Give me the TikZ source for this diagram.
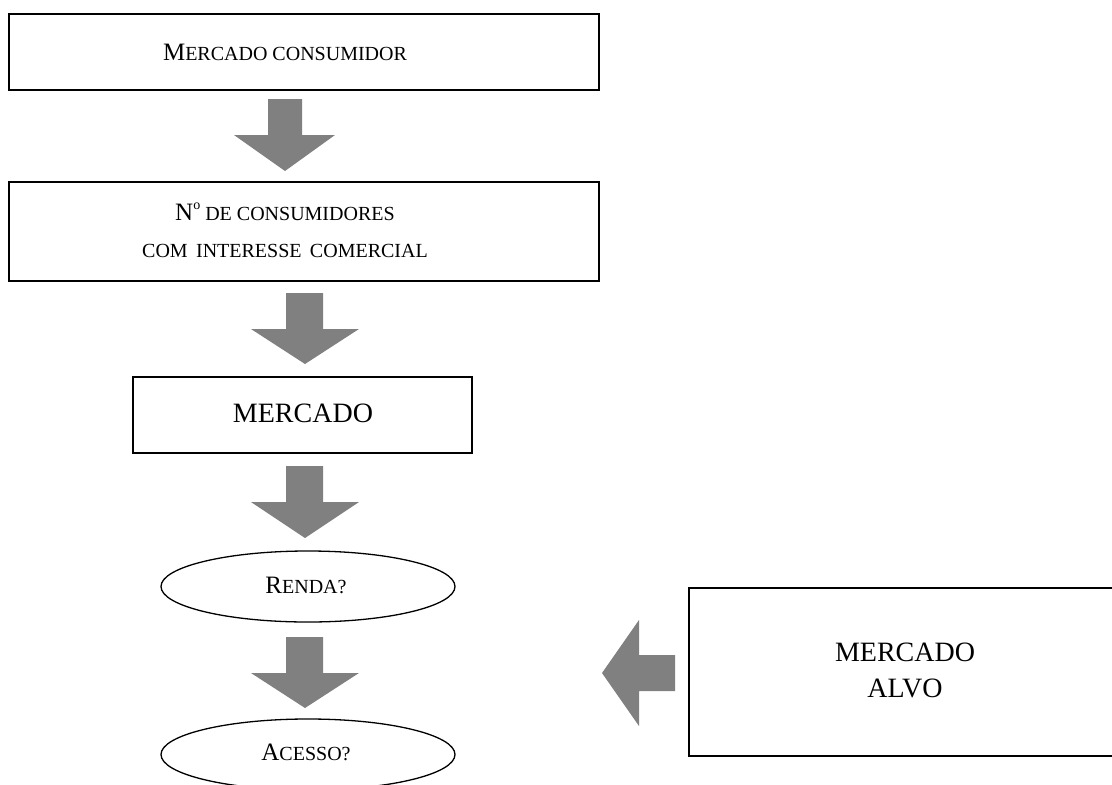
\documentclass[tikz,border=0pt]{standalone}
\usepackage{fontspec}
\setmainfont{Liberation Serif}
\usetikzlibrary{shapes.geometric}
\newcommand\bigL[1]{{\fontsize{25}{30}\selectfont #1}}
\tikzset{
  boxnode/.style={draw=black, line width=2.3pt, rectangle, inner sep=0pt},
  ovalnode/.style={draw=black, line width=1.3pt, ellipse, inner sep=0pt},
  lbl/.style={anchor=base, inner sep=0pt, text=black, font=\fontsize{20}{30}\selectfont},
  caplbl/.style={anchor=base, inner sep=0pt, text=black, font=\fontsize{28}{30}\selectfont},
  blockarrow/.style={fill=black!50, draw=none}
}
\begin{document}
\begin{tikzpicture}[x=1pt,y=-1pt]
\useasboundingbox (0,0) rectangle (1112,785);
\clip (0,0) rectangle (1112,785);
\fill[white] (0,0) rectangle (1112,785);

% boxes
\node[boxnode, minimum width=590pt, minimum height=76pt] (b1) at (304,52) {};
\node[boxnode, minimum width=590pt, minimum height=99pt] (b2) at (304,231.5) {};
\node[boxnode, minimum width=339pt, minimum height=76pt] (b3) at (302.5,415) {};
\node[ovalnode, minimum width=294pt, minimum height=71pt] (e1) at (308,586.5) {};
\node[ovalnode, minimum width=294pt, minimum height=71pt] (e2) at (308,754.5) {};
\node[boxnode, minimum width=450pt, minimum height=168pt] (b4) at (914,672) {};

% texts
\node[lbl] (t1) at (285,60) {\bigL{M}ERCADO CONSUMIDOR};
\node[lbl] (t2a) at (285,220) {\bigL{N}\raisebox{0.55em}{\fontsize{14}{16}\selectfont o} DE CONSUMIDORES};
\node[lbl] (t2b) at (285,257) {COM\, INTERESSE\, COMERCIAL};
\node[caplbl] (t3) at (303,422) {MERCADO};
\node[lbl] (t4) at (306,593) {\bigL{R}ENDA?};
\node[lbl] (t5) at (306,760) {\bigL{A}CESSO?};
\node[caplbl] (t6a) at (905,661) {MERCADO};
\node[caplbl] (t6b) at (905,697) {ALVO};

% block arrows
\coordinate (a1) at (285,171);
\fill[blockarrow] (268,99) -- (302,99) -- (302,135) -- (335,135) -- (a1) -- (234,135) -- (268,135) -- cycle;
\coordinate (a2) at (305,364);
\fill[blockarrow] (286,293) -- (323,293) -- (323,329) -- (359,329) -- (a2) -- (251,329) -- (286,329) -- cycle;
\coordinate (a3) at (305,538);
\fill[blockarrow] (286,466) -- (323,466) -- (323,502) -- (359,502) -- (a3) -- (251,502) -- (286,502) -- cycle;
\coordinate (a4) at (305,708);
\fill[blockarrow] (286,637) -- (323,637) -- (323,673) -- (359,673) -- (a4) -- (251,673) -- (286,673) -- cycle;
\coordinate (a5) at (602,673);
\fill[blockarrow] (675,655) -- (675,691) -- (639,691) -- (639,726) -- (a5) -- (639,620) -- (639,655) -- cycle;
\end{tikzpicture}
\end{document}
